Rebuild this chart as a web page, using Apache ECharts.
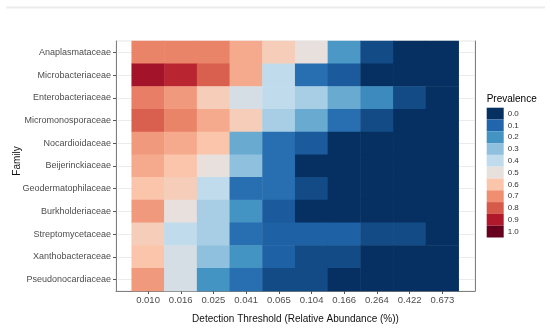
<!DOCTYPE html>
<html>
<head>
<meta charset="utf-8">
<script src="https://cdn.jsdelivr.net/npm/echarts@6/dist/echarts.min.js"></script>
<style>
html,body{margin:0;padding:0;background:#fff;}
#chart{width:550px;height:331px;}
</style>
</head>
<body>
<div id="chart"></div>
<script>
const thresholds = ['0.010','0.016','0.025','0.041','0.065','0.104','0.166','0.264','0.422','0.673'];
const families = ['Anaplasmataceae','Microbacteriaceae','Enterobacteriaceae','Micromonosporaceae','Nocardioidaceae','Beijerinckiaceae','Geodermatophilaceae','Burkholderiaceae','Streptomycetaceae','Xanthobacteraceae','Pseudonocardiaceae'];
// prevalence per family (rows) across detection thresholds (columns)
const anaplasmataceae     = [0.72,0.72,0.72,0.65,0.57,0.50,0.21,0.05,0.00,0.00];
const microbacteriaceae   = [0.92,0.88,0.79,0.65,0.40,0.12,0.08,0.00,0.00,0.00];
const enterobacteriaceae  = [0.73,0.68,0.57,0.45,0.40,0.35,0.25,0.18,0.05,0.00];
const micromonosporaceae  = [0.79,0.72,0.65,0.57,0.35,0.25,0.12,0.05,0.00,0.00];
const nocardioidaceae     = [0.68,0.65,0.60,0.25,0.12,0.08,0.00,0.00,0.00,0.00];
const beijerinckiaceae    = [0.65,0.60,0.50,0.30,0.12,0.00,0.00,0.00,0.00,0.00];
const geodermatophilaceae = [0.60,0.57,0.40,0.12,0.12,0.05,0.00,0.00,0.00,0.00];
const burkholderiaceae    = [0.68,0.50,0.35,0.20,0.08,0.00,0.00,0.00,0.00,0.00];
const streptomycetaceae   = [0.57,0.40,0.35,0.12,0.09,0.09,0.09,0.05,0.05,0.00];
const xanthobacteraceae   = [0.60,0.45,0.30,0.20,0.09,0.05,0.05,0.00,0.00,0.00];
const pseudonocardiaceae  = [0.68,0.45,0.20,0.12,0.05,0.05,0.00,0.00,0.00,0.00];
const rows = [anaplasmataceae,microbacteriaceae,enterobacteriaceae,micromonosporaceae,nocardioidaceae,beijerinckiaceae,geodermatophilaceae,burkholderiaceae,streptomycetaceae,xanthobacteraceae,pseudonocardiaceae];
const legendLabels = ['0.0','0.1','0.2','0.3','0.4','0.5','0.6','0.7','0.8','0.9','1.0'];
const palette = ['#053061','#2166ac','#4393c3','#8fc0de','#c0dbec','#e8e0dc','#fac5aa','#ef8e70','#d65a4a','#b2182b','#67001f'];

const data = [];
rows.forEach((r, yi) => r.forEach((v, xi) => data.push([xi, yi, v])));

const chart = echarts.init(document.getElementById('chart'), null, {renderer:'canvas'});
const font = 'Liberation Sans, Arial, sans-serif';
chart.setOption({
  backgroundColor:'#fff',
  animation:false,
  textStyle:{fontFamily:font},
  graphic:[{type:'rect', shape:{x:6,y:6.5,width:539,height:2}, style:{fill:'#ececec'}, silent:true}],
  title:{text:'Prevalence', left:481.7, top:89, textStyle:{fontSize:10, fontWeight:'normal', color:'#000', fontFamily:font}},
  grid:[
    {left:116, top:41, width:359, height:250, show:true, borderColor:'#e6e6e6', borderWidth:1, containLabel:false, outerBoundsMode:'none'},
    {left:131.7, top:41, width:327, height:250, containLabel:false, outerBoundsMode:'none'}
  ],
  xAxis:[
    {gridIndex:0, type:'value', min:0, max:1, axisLine:{show:true, lineStyle:{color:'#7f7f7f', width:1}},
     axisTick:{show:false}, axisLabel:{show:false}, splitLine:{show:false},
     name:'Detection Threshold (Relative Abundance (%))', nameLocation:'middle', nameGap:23, nameMoveOverlap:false,
     nameTextStyle:{fontSize:10, color:'#111', fontFamily:font}},
    {gridIndex:1, type:'category', data:thresholds, position:'bottom',
     axisLine:{show:false}, axisTick:{show:true, alignWithLabel:true, length:3, lineStyle:{color:'#555'}},
     axisLabel:{fontSize:9.5, color:'#4d4d4d', margin:4, fontFamily:font}, splitLine:{show:false}}
  ],
  yAxis:[
    {gridIndex:0, type:'category', data:families, inverse:true,
     axisLine:{show:true, lineStyle:{color:'#7f7f7f'}},
     axisTick:{show:true, alignWithLabel:true, length:3, lineStyle:{color:'#555'}},
     axisLabel:{fontSize:9, color:'#4d4d4d', margin:5, fontFamily:font},
     name:'Family', nameLocation:'middle', nameGap:94, nameRotate:90, nameMoveOverlap:false,
     nameTextStyle:{fontSize:10, color:'#111', fontFamily:font, padding:[0,0,0,10]}},
    {gridIndex:0, type:'category', data:families, inverse:true, position:'right',
     axisLine:{show:true, lineStyle:{color:'#7f7f7f'}},
     axisTick:{show:true, inside:true, alignWithLabel:true, length:357, lineStyle:{color:'#ebebeb'}},
     axisLabel:{show:false}, splitLine:{show:false}},
    {gridIndex:1, type:'category', data:families, inverse:true, show:false}
  ],
  visualMap:[
    {type:'continuous', show:false, seriesIndex:0, dimension:2, min:0, max:1, inRange:{color:palette}},
    {type:'piecewise', show:true, seriesIndex:1, left:486.7, top:107.7, orient:'vertical', inverse:true, align:'left',
     padding:0, itemWidth:17, itemHeight:11.8, itemGap:0, itemSymbol:'rect', textGap:4,
     textStyle:{fontSize:8, color:'#333', fontFamily:font},
     pieces: legendLabels.map((l,i)=>({value:i/10, label:l, color:palette[i]}))}
  ],
  series:[
    {type:'heatmap', xAxisIndex:1, yAxisIndex:2, data:data, itemStyle:{borderWidth:0}, emphasis:{disabled:true}, progressive:0},
    {type:'scatter', xAxisIndex:0, yAxisIndex:0, data:[]}
  ]
});
</script>
</body>
</html>
